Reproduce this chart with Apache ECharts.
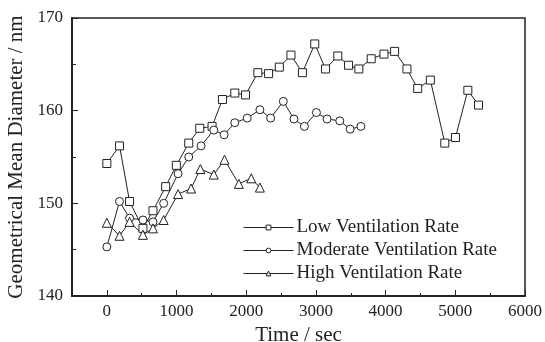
<!DOCTYPE html>
<html>
<head>
<meta charset="utf-8">
<script src="https://cdn.jsdelivr.net/npm/echarts@6/dist/echarts.min.js"></script>
<style>
  html, body { margin: 0; padding: 0; background: #fff; }
  #chart { width: 545px; height: 342px; }
</style>
</head>
<body>
<div id="chart"></div>
<script>
// Particle size (geometrical mean diameter) over time for three ventilation rates
const seriesNames = ['Low Ventilation Rate', 'Moderate Ventilation Rate', 'High Ventilation Rate'];

const lowTime = [0, 182, 326, 518, 662, 844, 997, 1175, 1333, 1510, 1659, 1836, 1990, 2167, 2321, 2475, 2642, 2806, 2983, 3137, 3314, 3468, 3616, 3793, 3976, 4129, 4306, 4460, 4642, 4849, 5002, 5180, 5333];
const lowDiam = [154.3, 156.2, 150.2, 147.3, 149.2, 151.8, 154.1, 156.5, 158.1, 158.3, 161.2, 161.9, 161.7, 164.1, 164.0, 164.7, 166.0, 164.1, 167.2, 164.5, 165.9, 164.9, 164.5, 165.6, 166.1, 166.4, 164.5, 162.4, 163.3, 156.5, 157.1, 162.2, 160.6];

const modTime = [0, 182, 326, 518, 662, 815, 1022, 1175, 1352, 1534, 1683, 1836, 2014, 2196, 2350, 2532, 2685, 2835, 3007, 3160, 3342, 3491, 3645];
const modDiam = [145.3, 150.2, 148.4, 148.2, 148.0, 150.0, 153.2, 155.0, 156.2, 157.9, 157.4, 158.7, 159.2, 160.1, 159.2, 161.0, 159.1, 158.3, 159.8, 159.1, 158.9, 158.0, 158.3];

const highTime = [0, 182, 326, 518, 662, 815, 1022, 1209, 1342, 1534, 1688, 1894, 2072, 2196];
const highDiam = [147.9, 146.5, 148.0, 146.6, 147.3, 148.2, 151.0, 151.6, 153.7, 153.1, 154.7, 152.1, 152.7, 151.7];

// Axis ranges and tick positions
const xRange = { min: -500, max: 6000, interval: 500 };
const xMajorTicks = [0, 1000, 2000, 3000, 4000, 5000, 6000];
const xMinorTicks = [-500, 500, 1500, 2500, 3500, 4500, 5500];
const yRange = { min: 140, max: 170, interval: 5 };
const yMajorTicks = [140, 150, 160, 170];
const yMinorTicks = [145, 155, 165];

function pairs(xs, ys) { return xs.map((x, i) => [x, ys[i]]); }

const font = 'Liberation Serif';
const ink = '#222';

const chart = echarts.init(document.getElementById('chart'), null, { renderer: 'canvas' });

function lineSeries(name, symbol, size, data) {
  return {
    name: name,
    type: 'line',
    xAxisIndex: 0,
    yAxisIndex: 0,
    data: data,
    symbol: symbol,
    symbolSize: size,
    showAllSymbol: true,
    lineStyle: { color: ink, width: 1 },
    itemStyle: { color: '#fff', borderColor: ink, borderWidth: 1 },
    emphasis: { disabled: true },
    animation: false
  };
}

// Only the major tick values get a label
function labelFrom(list) {
  return function (v) { return list.indexOf(v) >= 0 ? String(v) : ''; };
}

chart.setOption({
  backgroundColor: '#fff',
  animation: false,
  textStyle: { fontFamily: font },
  grid: {
    left: 72, right: 20, top: 18, bottom: 46,
    containLabel: false,
    outerBoundsMode: 'none',
    show: true, borderColor: ink, borderWidth: 1.5, backgroundColor: 'transparent'
  },
  legend: {
    data: seriesNames,
    orient: 'vertical',
    left: 238, top: 213,
    itemWidth: 50, itemHeight: 6,
    itemGap: 4,
    lineStyle: { width: 1 },
    itemStyle: { borderWidth: 1 },
    textStyle: { fontFamily: font, fontSize: 19, lineHeight: 19, color: ink, padding: [0, 0, 0, -2] },
    inactiveColor: ink,
    selectedMode: false
  },
  xAxis: [
    {
      type: 'value',
      min: xRange.min, max: xRange.max, interval: xRange.interval,
      name: 'Time / sec',
      nameLocation: 'middle', nameGap: 27,
      nameTextStyle: { fontFamily: font, fontSize: 21, color: ink },
      axisLine: { onZero: false, lineStyle: { color: ink, width: 2 } },
      axisTick: { inside: true, length: 6, customValues: xMajorTicks, lineStyle: { color: ink, width: 1 } },
      axisLabel: {
        fontFamily: font, fontSize: 17, color: ink, margin: 7,
        showMinLabel: true, showMaxLabel: true, hideOverlap: false,
        formatter: labelFrom(xMajorTicks)
      },
      splitLine: { show: false }
    },
    {
      type: 'value',
      position: 'bottom',
      min: xRange.min, max: xRange.max, interval: xRange.interval,
      axisLine: { show: false, onZero: false },
      axisTick: { inside: true, length: 3, customValues: xMinorTicks, lineStyle: { color: ink, width: 1 } },
      axisLabel: { show: false },
      splitLine: { show: false }
    }
  ],
  yAxis: [
    {
      type: 'value',
      min: yRange.min, max: yRange.max, interval: yRange.interval,
      name: 'Geometrical Mean Diameter / nm',
      nameLocation: 'middle', nameGap: 35,
      nameTextStyle: { fontFamily: font, fontSize: 21, color: ink },
      axisLine: { onZero: false, lineStyle: { color: ink, width: 2 } },
      axisTick: { inside: true, length: 6, customValues: yMajorTicks, lineStyle: { color: ink, width: 1 } },
      axisLabel: {
        fontFamily: font, fontSize: 17, color: ink, margin: 9,
        showMinLabel: true, showMaxLabel: true, hideOverlap: false,
        formatter: labelFrom(yMajorTicks)
      },
      splitLine: { show: false }
    },
    {
      type: 'value',
      position: 'left',
      min: yRange.min, max: yRange.max, interval: yRange.interval,
      axisLine: { show: false, onZero: false },
      axisTick: { inside: true, length: 4, customValues: yMinorTicks, lineStyle: { color: ink, width: 1 } },
      axisLabel: { show: false },
      splitLine: { show: false }
    }
  ],
  series: [
    lineSeries(seriesNames[0], 'rect', 8, pairs(lowTime, lowDiam)),
    lineSeries(seriesNames[1], 'circle', 8, pairs(modTime, modDiam)),
    lineSeries(seriesNames[2], 'triangle', 9, pairs(highTime, highDiam))
  ]
});
</script>
</body>
</html>
